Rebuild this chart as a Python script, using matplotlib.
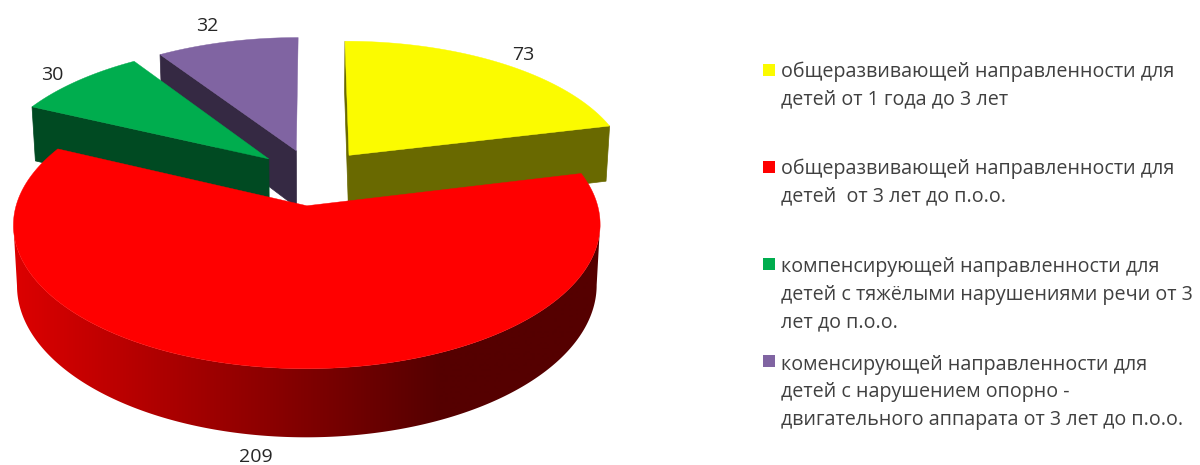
import numpy as np
import matplotlib
matplotlib.use("Agg")
import matplotlib.pyplot as plt
from matplotlib.patches import Rectangle, Polygon
from matplotlib.colors import LinearSegmentedColormap

values = [73, 209, 30, 32]
value_labels = ["73", "209", "30", "32"]
legend_labels = [
    "общеразвивающей направленности для\nдетей от 1 года до 3 лет",
    "общеразвивающей направленности для\nдетей  от 3 лет до п.о.о.",
    "компенсирующей направленности для\nдетей с тяжёлыми нарушениями речи от 3\nлет до п.о.о.",
    "коменсирующей направленности для\nдетей с нарушением опорно -\nдвигательного аппарата от 3 лет до п.о.о.",
]
top_colors = ["#FBFB00", "#FF0000", "#00AD4E", "#8064A2"]
side_colors = ["#696900", "#550000", "#004A22", "#352943"]

# projection parameters
Xc, Rx = 313.0, 283.0
D, Hs, Y0 = 7.8, 1045.0, 177.0
Zpx, Zk, EXPL = 58.0, 0.012, 0.21
Yh = Y0 - Hs

def proj(u, v, z=0.0):
    u, v = np.asarray(u, float), np.asarray(v, float)
    s = D / (D + v)
    return Xc + Rx * u * s * (1 - Zk * z), Yh + Hs * s + Zpx * z * s

fig = plt.figure(figsize=(12, 4.65), dpi=100)
ax = fig.add_axes([0, 0, 1, 1])

fracs = np.cumsum([0] + values) / sum(values) * 2 * np.pi
wedges = []
for i in range(len(values)):
    a0, a1 = fracs[i], fracs[i + 1]
    m = (a0 + a1) / 2
    ou, ov = EXPL * np.sin(m), EXPL * np.cos(m)
    t = np.linspace(a0, a1, 480)
    wedges.append((t, ou, ov, ou + np.sin(t), ov + np.cos(t)))

def cut_face(i, edge, z_order):
    t, ou, ov, us, vs = wedges[i]
    ue, ve = (us[0], vs[0]) if edge == 0 else (us[-1], vs[-1])
    xa, ya = proj([ou, ue], [ov, ve])
    xb, yb = proj([ue, ou], [ve, ov], 1.0)
    ax.fill(np.r_[xa, xb], np.r_[ya, yb], color=side_colors[i], lw=0.5, zorder=z_order)

def rim_poly(i):
    # ruled side surface between the two silhouette points of the slice
    t, ou, ov, us, vs = wedges[i]
    xt, yt = proj(us, vs)
    xb, yb = proj(us, vs, 1.0)
    i0, i1 = int(np.argmax(xt)), int(np.argmin(xt))
    return np.c_[np.r_[xt[i0:i1 + 1], xb[i0:i1 + 1][::-1]],
                 np.r_[yt[i0:i1 + 1], yb[i0:i1 + 1][::-1]]]

def red_rim(i, z_order, cmap):
    clip = Polygon(rim_poly(i), closed=True, transform=ax.transData,
                   facecolor="none", edgecolor="none")
    ax.add_patch(clip)
    ramp = np.clip((np.linspace(0, 620, 621) - 15) / 425, 0, 1)[None, :]
    im = ax.imshow(ramp, cmap=cmap, vmin=0, vmax=1, extent=(0, 620, 465, 0),
                   aspect="auto", interpolation="bilinear", zorder=z_order)
    im.set_clip_path(clip)

def top(i, z_order):
    t, ou, ov, us, vs = wedges[i]
    x, y = proj(np.r_[ou, us], np.r_[ov, vs])
    ax.fill(x, y, color=top_colors[i], lw=0.3, zorder=z_order)

red_grad = LinearSegmentedColormap.from_list("redside", ["#DC0000", "#550000"])

# painter's order: back slices first, red front slice last
cut_face(3, 0, 1)
top(3, 2)
cut_face(2, 0, 3)
top(2, 4)
cut_face(0, 0, 3)
cut_face(0, 1, 3)
top(0, 4)
red_rim(1, 5, red_grad)
top(1, 6)

# value labels
label_xy = [(523, 55), (256, 456.5), (52, 75), (207, 26)]
for (lx, ly), s in zip(label_xy, value_labels):
    ax.text(lx, ly, s, ha="center", va="center", fontsize=14, color="#262626",
            family="Open Sans", zorder=10)

# legend
marker_y = [70, 167, 264, 361]
text_y = [85.5, 182.5, 294.5, 392]
for c, my, ty, s in zip(top_colors, marker_y, text_y, legend_labels):
    ax.add_patch(Rectangle((763, my - 6), 12, 12, color=c, lw=0, zorder=10))
    ax.text(781, ty, s, ha="left", va="center", fontsize=14.25, color="#404040",
            family="Open Sans", linespacing=1.5, zorder=10)

ax.set_xlim(0, 1200)
ax.set_ylim(465, 0)
ax.axis("off")
fig.savefig("out.png", dpi=100, facecolor="white")
